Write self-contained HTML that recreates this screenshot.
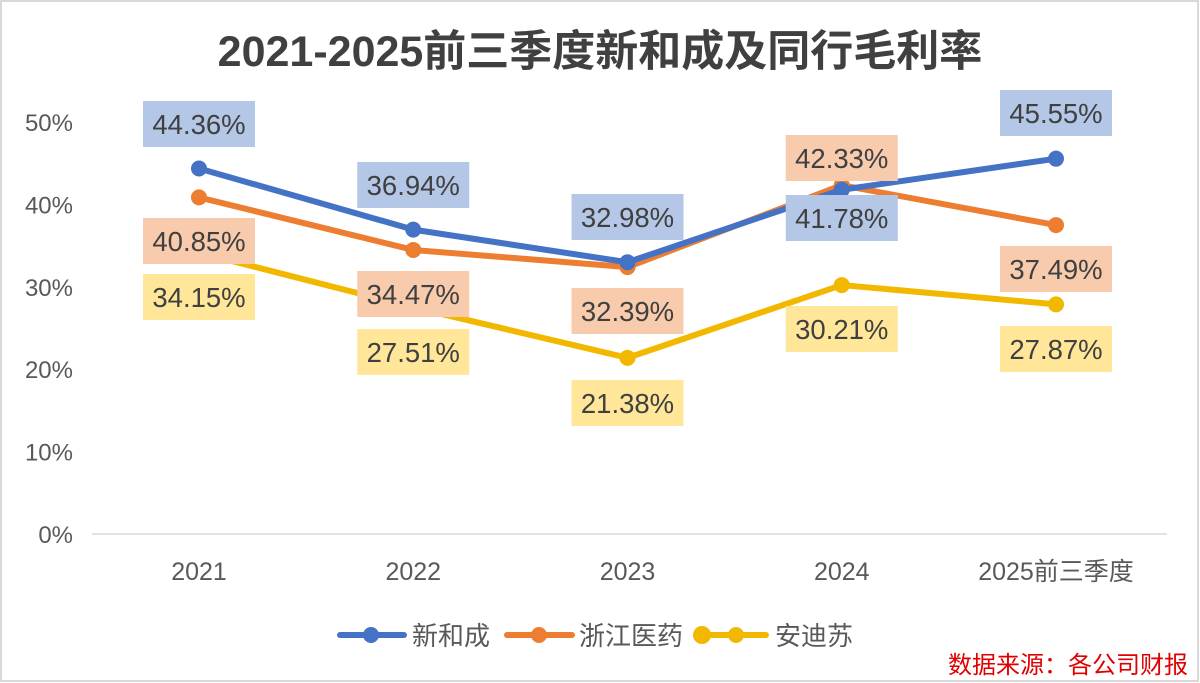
<!DOCTYPE html>
<html><head><meta charset="utf-8"><style>
body{margin:0;background:#fff}
svg{display:block;font-family:"Liberation Sans","Noto Sans CJK SC",sans-serif}
</style></head><body>
<svg id="chart" width="1200" height="683" viewBox="0 0 1200 683">
<rect x="1" y="1" width="1197" height="680" fill="#fff" stroke="#d9d9d9" stroke-width="2"/>
<text x="600" y="66" text-anchor="middle" font-size="43" font-weight="bold" fill="#404040">2021-2025前三季度新和成及同行毛利率</text>
<g id="yaxis"></g>
<g id="xaxis"></g>
<g id="series"></g>
<g id="labels"></g>
<g>
<g><line x1="340" y1="635" x2="404" y2="635" stroke="#4472C4" stroke-width="6" stroke-linecap="round"/><circle cx="371" cy="635" r="8" fill="#4472C4"/><text x="412" y="645" font-size="26" fill="#595959">新和成</text></g>
<g><line x1="507" y1="635" x2="572" y2="635" stroke="#ED7D31" stroke-width="6" stroke-linecap="round"/><circle cx="539" cy="635" r="8" fill="#ED7D31"/><text x="579" y="645" font-size="26" fill="#595959">浙江医药</text></g>
<g><line x1="702" y1="635" x2="766" y2="635" stroke="#F2B800" stroke-width="6" stroke-linecap="round"/><circle cx="702" cy="635" r="9" fill="#F2B800"/><circle cx="736" cy="635" r="8" fill="#F2B800"/><text x="775" y="645" font-size="26" fill="#595959">安迪苏</text></g>
</g>
<text x="1188" y="673" text-anchor="end" font-size="24" fill="#e00000">数据来源：各公司财报</text>
</svg>
<script>
const categories=["2021","2022","2023","2024","2025前三季度"];
const xinhecheng=[44.36,36.94,32.98,41.78,45.55];
const zhejiang=[40.85,34.47,32.39,42.33,37.49];
const andisu=[34.15,27.51,21.38,30.21,27.87];
const yTicks=[0,10,20,30,40,50];
const NS="http://www.w3.org/2000/svg";
function xPos(i){return 199+i*214.25;}
function yPos(v){return 534-v*8.24;}
function mk(t,a,p){const e=document.createElementNS(NS,t);for(const k in a)e.setAttribute(k,a[k]);p.appendChild(e);return e;}
const ya=document.getElementById('yaxis');
yTicks.forEach(v=>{const t=mk('text',{x:73,y:yPos(v)+9,'text-anchor':'end','font-size':24,fill:'#595959'},ya);t.textContent=v+'%';

});
const xa=document.getElementById('xaxis');
const axl=mk('line',{x1:92,y1:534,x2:1167,y2:534,stroke:'#d9d9d9','stroke-width':1.5},xa);


categories.forEach((c,i)=>{const t=mk('text',{x:xPos(i),y:580,'text-anchor':'middle','font-size':25,fill:'#595959'},xa);t.textContent=c;

});
const sg=document.getElementById('series'),lg=document.getElementById('labels');
const defs=[
 {d:andisu,c:'#F2B800',f:'#FFE699',n:'andisu'},
 {d:zhejiang,c:'#ED7D31',f:'#F8CBAD',n:'zhejiang-yiyao'},
 {d:xinhecheng,c:'#4472C4',f:'#B4C7E7',n:'xinhecheng'}
];
const lblY={xinhecheng:[124,185,217,218,113],'zhejiang-yiyao':[241,294,311,158,269],andisu:[297,352,403,329,349]};
defs.forEach(s=>{
 const pts=s.d.map((v,i)=>xPos(i)+','+yPos(v)).join(' ');
 const pl=mk('polyline',{points:pts,fill:'none',stroke:s.c,'stroke-width':6,'stroke-linejoin':'round'},sg);
 
 
 s.d.forEach((v,i)=>{const c=mk('circle',{cx:xPos(i),cy:yPos(v),r:8,fill:s.c},sg);
 
 });
});
[defs[2],defs[1],defs[0]].forEach(s=>{
 s.d.forEach((v,i)=>{
  const cy=lblY[s.n][i];const g=mk('g',{},lg);
  
  
  mk('rect',{x:xPos(i)-56,y:cy-23,width:112,height:46,fill:s.f},g);
  const t=mk('text',{x:xPos(i),y:cy+10,'text-anchor':'middle','font-size':27.5,fill:'#404040'},g);
  t.textContent=v.toFixed(2)+'%';
 });
});
</script>
</body></html>
